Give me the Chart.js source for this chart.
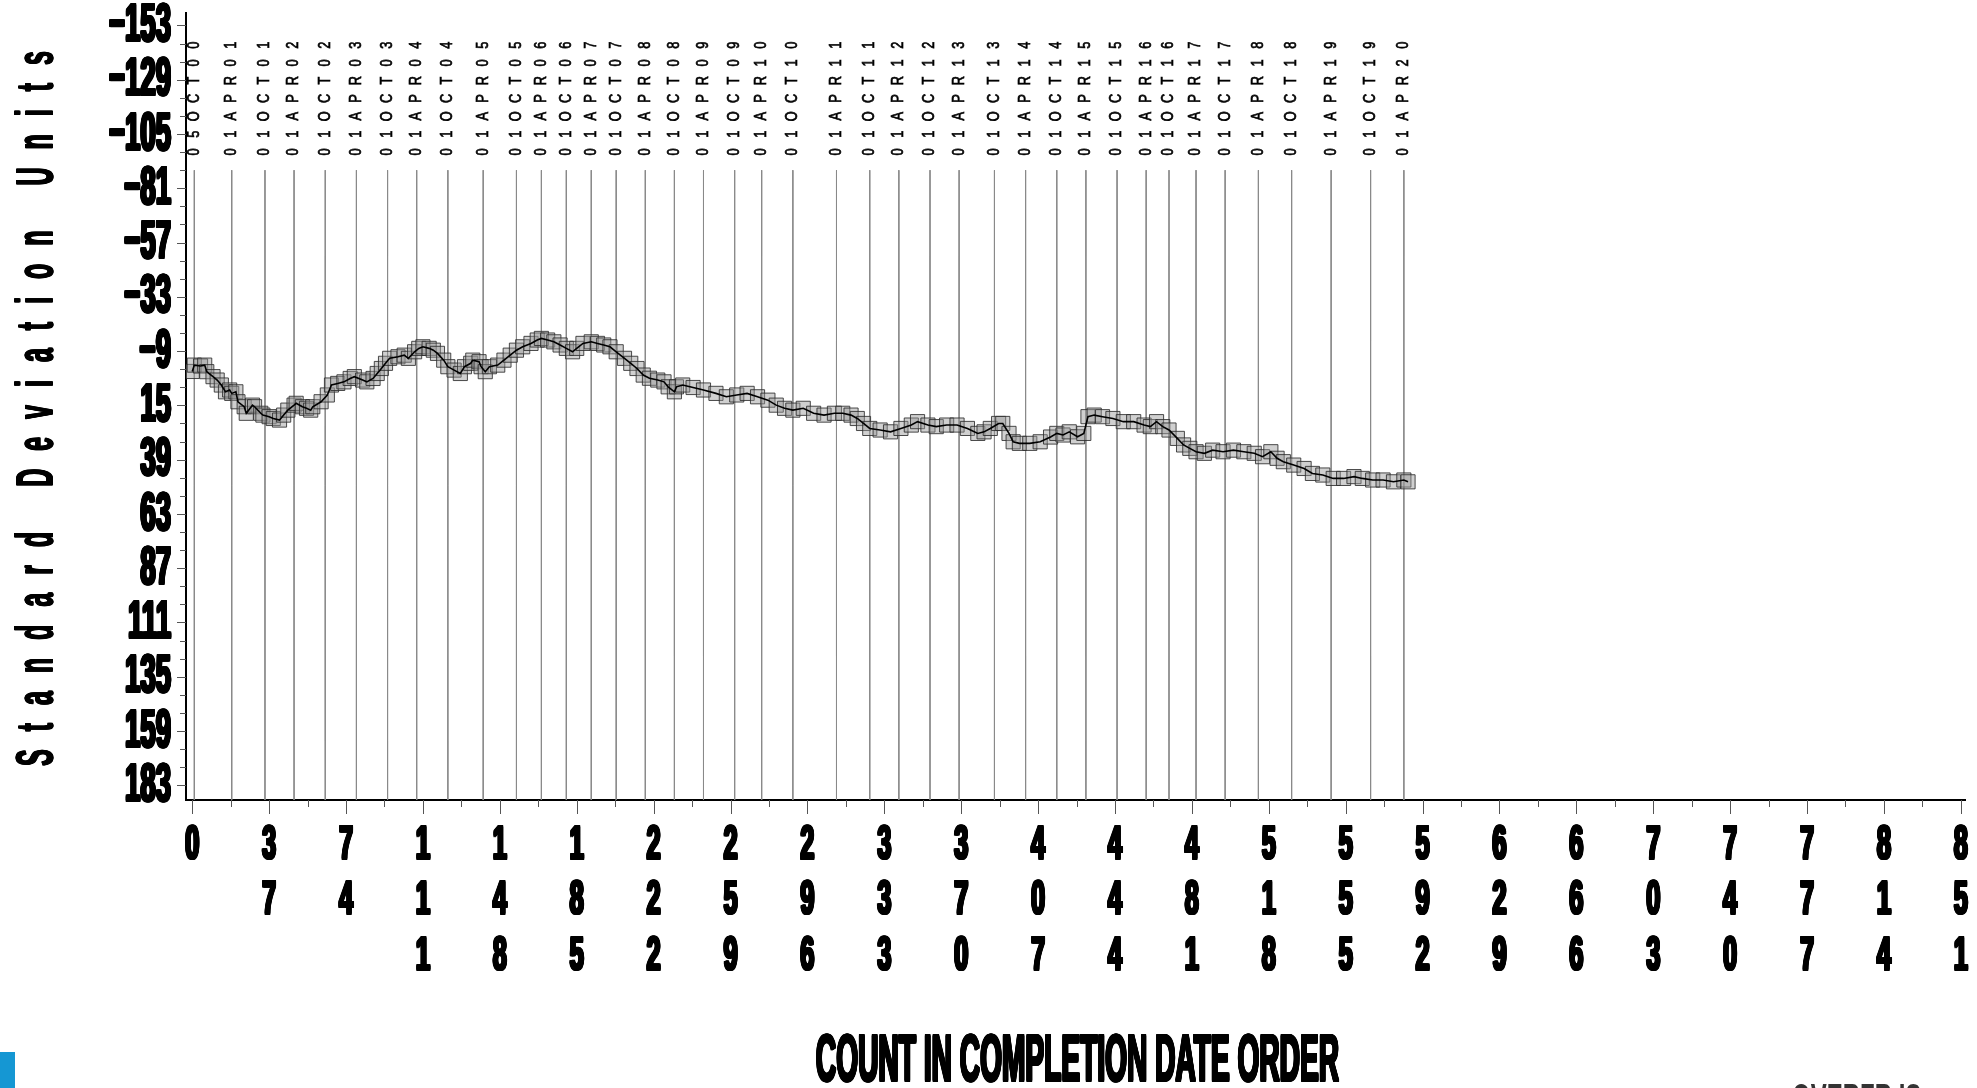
<!DOCTYPE html>
<html>
<head>
<meta charset="utf-8">
<script src="https://cdn.jsdelivr.net/npm/chart.js@4.4.1/dist/chart.umd.min.js"></script>
<style>
  html, body { margin: 0; padding: 0; background: #fff; overflow: hidden; }
  canvas { display: block; }
</style>
</head>
<body>
<canvas id="cusum" width="1977" height="1088"></canvas>
<script>
// Cases in completion-date order and the cumulative sum in standard deviation units
const caseCount = [
  0, 1, 4, 6, 7, 10, 12, 14, 16, 18,
  19, 21, 22, 25, 26, 29, 30, 33, 34, 37,
  39, 42, 44, 46, 49, 50, 53, 55, 57, 58,
  62, 65, 67, 70, 73, 76, 78, 82, 84, 87,
  89, 91, 93, 95, 99, 102, 104, 107, 109, 111,
  114, 116, 118, 121, 123, 126, 129, 131, 134, 135,
  138, 139, 141, 143, 147, 150, 153, 156, 159, 163,
  166, 168, 171, 174, 177, 180, 183, 185, 188, 192,
  195, 198, 201, 204, 208, 211, 214, 217, 220, 224,
  227, 229, 232, 233, 236, 241, 246, 252, 257, 262,
  267, 272, 277, 281, 285, 289, 294, 299, 304, 309,
  313, 317, 320, 323, 326, 331, 336, 341, 346, 349,
  354, 358, 363, 368, 373, 378, 381, 384, 388, 390,
  393, 395, 398, 403, 408, 413, 416, 419, 422, 426,
  429, 431, 434, 438, 443, 448, 453, 458, 461, 464,
  467, 470, 474, 477, 480, 483, 487, 491, 496, 501,
  506, 511, 515, 519, 522, 525, 530, 535, 539, 544,
  549, 554, 559, 563, 568, 573, 578, 583, 585
];
const cusumValue = [
  0, -2.8, -2.4, -2.8, 0.1, 2.3, 3.8, 6, 9, 8.2,
  9.7, 9, 13.4, 15.6, 18.5, 14.9, 15.6, 18.5, 19.3, 20,
  20.8, 21.5, 19.3, 17.1, 14.9, 14.1, 15.6, 16.3, 17.1, 15.6,
  13.4, 10.4, 6, 5.3, 4.6, 3.1, 2.3, 3.8, 4.6, 3.1,
  0.9, -1.3, -3.6, -5.8, -6.5, -7.2, -5.8, -8.7, -10.2, -10.9,
  -10.2, -9.4, -8, -5, -2.1, -0.6, 0.9, -2.1, -3.6, -5,
  -4.3, -2.1, 0.1, -2.1, -2.8, -5, -7.2, -9.4, -10.9, -12.4,
  -13.9, -14.6, -13.9, -13.1, -11.7, -10.2, -8.7, -10.2, -12.4, -13.1,
  -12.4, -11.7, -10.9, -8.7, -5.8, -3.6, -1.3, 1.6, 3, 3.8,
  4.6, 6.8, 9, 6.8, 6, 7.1, 8.2, 9.7, 11.2, 10.4,
  9.7, 11.2, 12.7, 14.9, 16.3, 17.1, 16.3, 18.5, 19.3, 18.5,
  18.5, 19.3, 20.8, 23, 25.2, 25.9, 26.7, 25.2, 23.7, 22.2,
  23.7, 24.4, 23.7, 23.7, 25.2, 27.4, 26.7, 25.2, 23, 23,
  27.4, 31.1, 31.8, 31.8, 31.1, 29, 27.4, 28.1, 26.7, 28.9,
  27.4, 20, 19.3, 20, 20.8, 22.2, 22.2, 23.7, 24.4, 22.2,
  24.4, 25.9, 29.6, 32.5, 34, 35.5, 36.2, 34.8, 35.5, 34.8,
  35.5, 36.2, 37.7, 35.5, 38.4, 39.9, 41.4, 42.9, 45.1, 45.8,
  47.3, 47.3, 46.5, 47.3, 48, 48, 48.8, 48, 48.8
];

// Count at which each half-year period begins, with its date
const periodStartCount = [
  1, 19, 35, 49, 64, 79, 94, 108, 123, 140,
  156, 168, 180, 192, 204, 218, 232, 246, 261, 274,
  289, 310, 326, 340, 355, 369, 386, 401, 416, 430,
  445, 459, 470, 483, 497, 513, 529, 548, 567, 583
];
const periodStartLabel = [
  '05OCT00', '01APR01', '01OCT01', '01APR02', '01OCT02', '01APR03', '01OCT03', '01APR04', '01OCT04', '01APR05',
  '01OCT05', '01APR06', '01OCT06', '01APR07', '01OCT07', '01APR08', '01OCT08', '01APR09', '01OCT09', '01APR10',
  '01OCT10', '01APR11', '01OCT11', '01APR12', '01OCT12', '01APR13', '01OCT13', '01APR14', '01OCT14', '01APR15',
  '01OCT15', '01APR16', '01OCT16', '01APR17', '01OCT17', '01APR18', '01OCT18', '01APR19', '01OCT19', '01APR20'
];
const periodLineTop = -89;

// Axis ticks and titles
const xTickValues = [0, 37, 74, 111, 148, 185, 222, 259, 296, 333, 370, 407, 444, 481, 518, 555, 592, 629, 666, 703, 740, 777, 814, 851];
const yTickValues = [-153, -129, -105, -81, -57, -33, -9, 15, 39, 63, 87, 111, 135, 159, 183];
const xRange = [-3, 853];
const yRange = [-158.5, 189.5];
const xTitle = 'COUNT IN COMPLETION DATE ORDER';
const yTitle = 'Standard Deviation Units';
const footerText = 'OVERFR IS';

const series = caseCount.map((c, i) => ({ x: c, y: cusumValue[i] }));
const periodLines = [];
periodStartCount.forEach(c => {
  periodLines.push({ x: c, y: periodLineTop }, { x: c, y: yRange[1] }, { x: c, y: null });
});

const FONT = '"Liberation Sans", Arial, sans-serif';

// Horizontally condensed block lettering; 'heavy' thickens strokes by repeated fills
function narrowText(ctx, text, x, y, squeeze, align, heavy) {
  ctx.save();
  ctx.translate(x, y);
  ctx.scale(squeeze, 1);
  ctx.textAlign = align;
  const h = heavy || 0;
  for (let dx = -h; dx <= h; dx += 1) {
    for (let dy = -h / 2; dy <= h / 2; dy += 1) {
      ctx.fillText(text, dx, dy);
    }
  }
  ctx.restore();
}

function signed(v) {
  return v < 0 ? '\u2212' + Math.abs(v) : String(v);
}

const decorations = {
  id: 'decorations',
  afterDraw(chart) {
    const ctx = chart.ctx;
    const xs = chart.scales.x, ys = chart.scales.y;
    const area = chart.chartArea;
    ctx.save();
    ctx.fillStyle = '#000';
    ctx.strokeStyle = '#555';
    ctx.lineWidth = 1;

    // y tick marks: majors every 24, two minors between
    for (let v = yTickValues[0]; v <= yTickValues[yTickValues.length - 1] + 0.1; v += 8) {
      const py = Math.round(ys.getPixelForValue(v)) + 0.5;
      const major = yTickValues.includes(v);
      ctx.beginPath();
      ctx.moveTo(area.left - (major ? 9 : 6), py);
      ctx.lineTo(area.left, py);
      ctx.stroke();
    }

    // x tick marks: majors every 37, one minor between
    xTickValues.forEach((v, i) => {
      const px = Math.round(xs.getPixelForValue(v)) + 0.5;
      ctx.beginPath();
      ctx.moveTo(px, area.bottom);
      ctx.lineTo(px, area.bottom + 14);
      ctx.stroke();
      if (i < xTickValues.length - 1) {
        const mx = Math.round(xs.getPixelForValue((v + xTickValues[i + 1]) / 2)) + 0.5;
        ctx.beginPath();
        ctx.moveTo(mx, area.bottom);
        ctx.lineTo(mx, area.bottom + 7);
        ctx.stroke();
      }
    });

    // y tick labels
    ctx.font = 'bold 53px ' + FONT;
    ctx.textBaseline = 'middle';
    yTickValues.forEach(v => {
      narrowText(ctx, signed(v), 171, ys.getPixelForValue(v) + 1, 0.52, 'right', 2);
    });

    // x tick labels, one digit per row
    ctx.font = 'bold 49px ' + FONT;
    ctx.textBaseline = 'middle';
    xTickValues.forEach(v => {
      const px = xs.getPixelForValue(v);
      String(v).split('').forEach((d, k) => {
        narrowText(ctx, d, px, 845 + k * 55.5, 0.52, 'center', 2);
      });
    });

    // period start dates above the reference lines, read bottom to top
    ctx.font = '16px ' + FONT;
    ctx.textBaseline = 'middle';
    ctx.textAlign = 'center';
    ctx.lineWidth = 0.7;
    ctx.strokeStyle = '#000';
    periodStartCount.forEach((c, i) => {
      const px = xs.getPixelForValue(c);
      const chars = periodStartLabel[i].split('');
      ctx.save();
      ctx.translate(px, 98.5);
      ctx.rotate(-Math.PI / 2);
      chars.forEach((ch, k) => {
        const pos = (k - (chars.length - 1) / 2) * 17.8;
        ctx.save();
        ctx.translate(pos, 0);
        ctx.scale(0.8, 1);
        ctx.strokeText(ch, 0, 0);
        ctx.fillText(ch, 0, 0);
        ctx.restore();
      });
      ctx.restore();
    });

    // x axis title
    ctx.font = 'bold 67px ' + FONT;
    ctx.textBaseline = 'alphabetic';
    narrowText(ctx, xTitle, (area.left + area.right) / 2 + 2, 1081, 0.42, 'center', 2);

    // y axis title, spaced out letter by letter
    ctx.font = 'bold 52px ' + FONT;
    ctx.textBaseline = 'alphabetic';
    const squeeze = 0.48, gap = 18, wordGap = 45;
    const words = yTitle.split(' ');
    let total = 0;
    words.forEach((w, wi) => {
      w.split('').forEach((ch, k) => {
        total += ctx.measureText(ch).width * squeeze;
        if (k < w.length - 1) total += gap;
      });
      if (wi < words.length - 1) total += wordGap;
    });
    ctx.save();
    ctx.translate(52, (area.top + area.bottom) / 2 + 2 + total / 2);
    ctx.rotate(-Math.PI / 2);
    let pos = 0;
    words.forEach((w, wi) => {
      w.split('').forEach((ch, k) => {
        const cw = ctx.measureText(ch).width * squeeze;
        narrowText(ctx, ch, pos, 0, squeeze, 'left', 1);
        pos += cw;
        if (k < w.length - 1) pos += gap;
      });
      if (wi < words.length - 1) pos += wordGap;
    });
    ctx.restore();

    // corner marks at the page bottom
    ctx.fillStyle = '#1597d3';
    ctx.fillRect(0, 1052, 15, 36);
    ctx.fillStyle = '#333';
    ctx.font = 'bold 40px ' + FONT;
    ctx.textBaseline = 'top';
    narrowText(ctx, footerText, 1792, 1081, 0.6, 'left');
    ctx.restore();
  }
};

new Chart(document.getElementById('cusum'), {
  type: 'line',
  data: {
    datasets: [
      {
        label: 'Period starts',
        data: periodLines,
        borderColor: '#8a8a8a',
        borderWidth: 1,
        pointRadius: 0,
        spanGaps: false,
        order: 3
      },
      {
        label: 'Cases',
        data: series,
        showLine: false,
        pointStyle: 'rect',
        pointRadius: 10,
        pointBorderColor: 'rgba(45,45,45,0.85)',
        pointBorderWidth: 1,
        pointBackgroundColor: 'rgba(150,150,150,0.45)',
        order: 2
      },
      {
        label: 'CUSUM',
        data: series,
        borderColor: '#000',
        borderWidth: 1.6,
        pointRadius: 0,
        order: 1
      }
    ]
  },
  options: {
    responsive: false,
    animation: false,
    devicePixelRatio: 1,
    layout: { padding: { left: 186, right: 12, top: 13, bottom: 288 } },
    plugins: { legend: { display: false }, tooltip: { enabled: false } },
    scales: {
      x: {
        type: 'linear', min: xRange[0], max: xRange[1],
        grid: { display: false },
        border: { display: true, color: '#000', width: 2 },
        ticks: { display: false },
        afterFit(s) { s.height = 0; }
      },
      y: {
        type: 'linear', reverse: true, min: yRange[0], max: yRange[1],
        grid: { display: false },
        border: { display: true, color: '#000', width: 2 },
        ticks: { display: false },
        afterFit(s) { s.width = 0; }
      }
    }
  },
  plugins: [decorations]
});
</script>
</body>
</html>
